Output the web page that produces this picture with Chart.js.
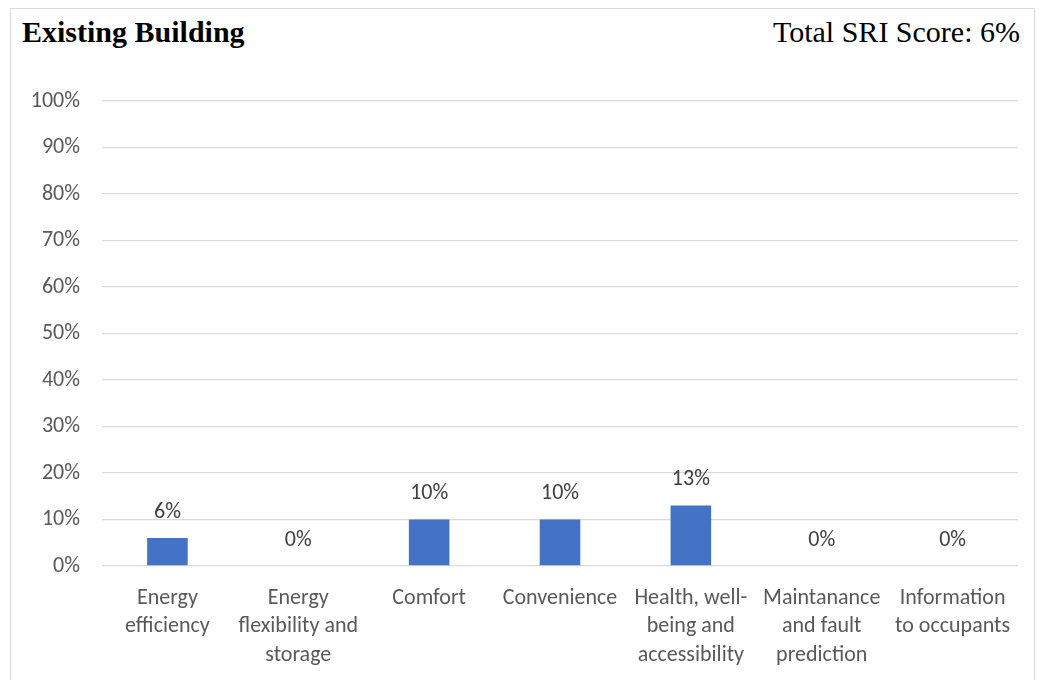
<!DOCTYPE html>
<html>
<head>
<meta charset="utf-8">
<script src="https://cdn.jsdelivr.net/npm/chart.js@4"></script>
<style>
  html, body { margin: 0; padding: 0; background: #fff; }
  #wrap { position: relative; width: 1052px; height: 680px; overflow: hidden; }
  #frame { position: absolute; left: 10px; top: 8px; width: 1023px; height: 700px; border: 1px solid #d9d9d9; }
  .head { position: absolute; top: 15px; font-family: 'Liberation Serif', serif; color: #000; font-size: 30px; }
  #title { left: 22px; font-weight: bold; }
  #score { right: 32px; }
  canvas { position: absolute; left: 0; top: 0; }
</style>
</head>
<body>
<div id="wrap">
  <div id="frame"></div>
  <div class="head" id="title">Existing Building</div>
  <div class="head" id="score">Total SRI Score: 6%</div>
  <canvas id="sriChart" width="1052" height="680"></canvas>
</div>
<script>
const categories = [
  ['Energy', 'efficiency'],
  ['Energy', 'flexibility and', 'storage'],
  'Comfort',
  'Convenience',
  ['Health, well-', 'being and', 'accessibility'],
  ['Maintanance', 'and fault', 'prediction'],
  ['Information', 'to occupants']
];
const scores = [6, 0, 10, 10, 13, 0, 0];

const tickFont = { family: "Carlito, 'Open Sans', sans-serif", size: 22 };

// draws the value above every bar
const valueLabels = {
  id: 'valueLabels',
  afterDatasetsDraw(chart) {
    const ctx = chart.ctx;
    const meta = chart.getDatasetMeta(0);
    ctx.save();
    ctx.font = `${tickFont.size}px ${tickFont.family}`;
    ctx.fillStyle = '#404040';
    ctx.textAlign = 'center';
    ctx.textBaseline = 'middle';
    meta.data.forEach((bar, i) => {
      ctx.fillText(`${scores[i]}%`, bar.x, bar.y - 26);
    });
    ctx.restore();
  }
};

// eslint-disable-next-line no-new
new Chart(document.getElementById('sriChart'), {
  type: 'bar',
  data: {
    labels: categories,
    datasets: [{
      data: scores,
      backgroundColor: '#4472C4',
      barPercentage: 0.31,
      categoryPercentage: 1
    }]
  },
  options: {
    responsive: false,
    animation: false,
    layout: { padding: { top: 101, right: 34, left: 0, bottom: 0 } },
    plugins: {
      legend: { display: false },
      tooltip: { enabled: false }
    },
    scales: {
      x: {
        grid: { display: false },
        border: { display: false },
        ticks: {
          autoSkip: false,
          maxRotation: 0,
          color: '#595959',
          font: { ...tickFont, lineHeight: 1.3 },
          padding: 10
        },
        afterFit(scale) { scale.height = 114; }
      },
      y: {
        min: 0,
        max: 100,
        border: { display: false },
        grid: { color: '#d9d9d9', lineWidth: 1.3, drawTicks: false },
        ticks: {
          stepSize: 10,
          color: '#595959',
          font: tickFont,
          padding: 22,
          callback: (v) => `${v}%`
        },
        afterFit(scale) { scale.width = 102; }
      }
    }
  },
  plugins: [valueLabels]
});
</script>
</body>
</html>
